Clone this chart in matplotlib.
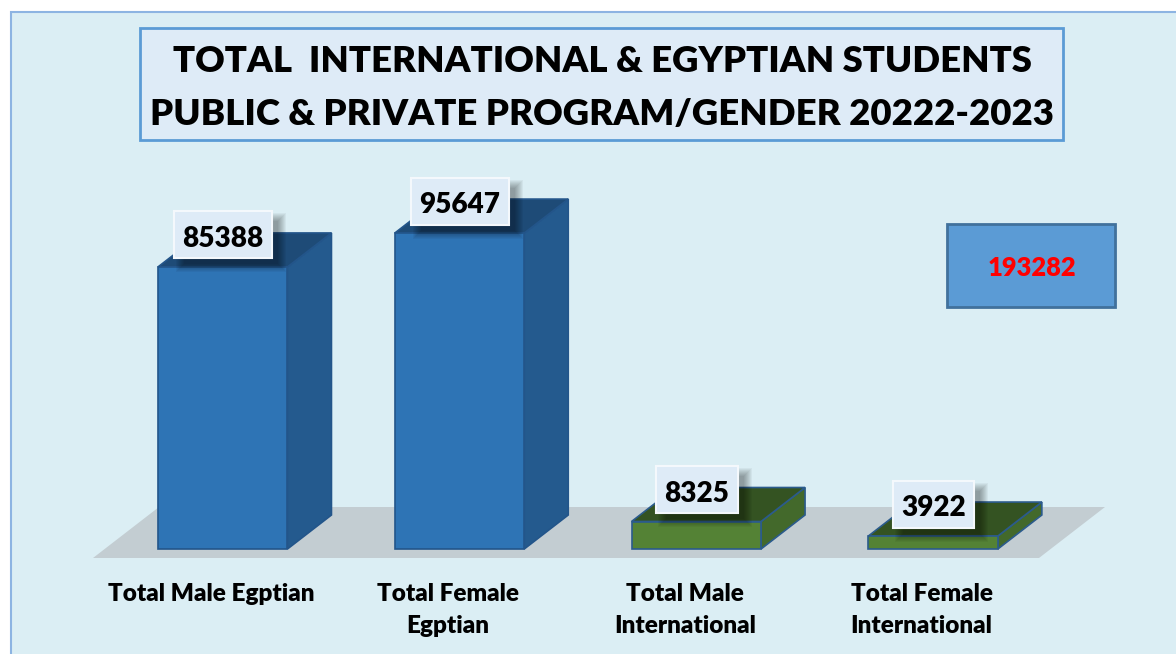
import matplotlib
matplotlib.use("Agg")
import matplotlib.pyplot as plt
from matplotlib.patches import Rectangle, Polygon
from matplotlib.transforms import Affine2D
import numpy as np

# ---------------- data ----------------
categories = ["Total Male Egptian", "Total Female\nEgptian",
              "Total Male\nInternational", "Total Female\nInternational"]
values = [85388, 95647, 8325, 3922]
value_labels = ["85388", "95647", "8325", "3922"]
total_value = 193282
title_lines = ["TOTAL  INTERNATIONAL & EGYPTIAN STUDENTS",
               "PUBLIC & PRIVATE PROGRAM/GENDER 20222-2023"]

# ---------------- styles ----------------
W, H, DPI = 1176, 654, 100
FONT = ["Lato", "DejaVu Sans"]
WEIGHT = "heavy"
front_colors = ["#2E74B5", "#2E74B5", "#548235", "#548235"]
side_colors = ["#245A8E", "#245A8E", "#43692B", "#43692B"]
top_colors = ["#1E4B77", "#1E4B77", "#345322", "#345322"]
edge_colors = ["#23558A", "#23558A", "#2B5B8C", "#2B5B8C"]

fig = plt.figure(figsize=(W / DPI, H / DPI), dpi=DPI)
fig.patch.set_facecolor("white")
renderer = fig.canvas.get_renderer()

# pixel transform (origin top-left)
pix = Affine2D().scale(1.0 / W, -1.0 / H).translate(0, 1) + fig.transFigure

ax = fig.add_axes([0, 0, 1, 1])
ax.set_axis_off()
ax.patch.set_alpha(0)

# scales: bar centres ~236.8 px apart, 3.303 px per 1000 students
PX_PER_X = 236.8
PX_PER_Y = 3.303 / 1000.0
X0_PX, BASE_PX = 222.7, 549.0
ax.set_xlim(-X0_PX / PX_PER_X, (W - X0_PX) / PX_PER_X)
ax.set_ylim(-(H - BASE_PX) / PX_PER_Y, BASE_PX / PX_PER_Y)

def to_pix(xd, yd):
    dx, dy = ax.transData.transform((xd, yd))
    return dx, H - dy

def fit_size(text, target_w):
    t = fig.text(0, 0, text, fontsize=20, fontweight=WEIGHT, family=FONT)
    w = t.get_window_extent(renderer).width
    t.remove()
    return 20.0 * target_w / w

# ---------------- panel ----------------
ax.add_patch(Rectangle((11, 12), W + 50, H + 50, transform=pix,
                       facecolor="#DBEEF4", edgecolor="#8DB4E2", lw=1.5,
                       zorder=0, clip_on=False))

# ---------------- title ----------------
ax.add_patch(Rectangle((140, 28), 923, 112, transform=pix,
                       facecolor="#DEEBF7", edgecolor="#5B9BD5", lw=2,
                       zorder=1, clip_on=False))
tsize = fit_size(title_lines[1], 901)
for line, base in zip(title_lines, [72, 125]):
    ax.text(602, base, line, transform=pix, ha="center", va="baseline",
            fontsize=tsize, fontweight=WEIGHT, family=FONT, color="black",
            zorder=2)

# ---------------- floor ----------------
DEPTH_X, DEPTH_Y = 44, 34  # px, 3-D depth
floor_l = (93 - X0_PX) / PX_PER_X
floor_r = (1039 - X0_PX) / PX_PER_X
fb = -9 / PX_PER_Y
fdx = 66 / PX_PER_X
fdy = 51 / PX_PER_Y
ax.add_patch(Polygon([(floor_l, fb), (floor_r, fb), (floor_r + fdx, fb + fdy),
                      (floor_l + fdx, fb + fdy)], closed=True,
                     facecolor="#C3CDD2", edgecolor="none", zorder=2))

# ---------------- bars ----------------
x = np.arange(len(values))
bw = 129.5 / PX_PER_X
bars = ax.bar(x, values, width=bw, color=front_colors, edgecolor=edge_colors,
              linewidth=1.2, zorder=4)
ddx = DEPTH_X / PX_PER_X
ddy = DEPTH_Y / PX_PER_Y
for b, sc, tc, ec in zip(bars, side_colors, top_colors, edge_colors):
    x0, x1, h = b.get_x(), b.get_x() + b.get_width(), b.get_height()
    ax.add_patch(Polygon([(x1, 0), (x1 + ddx, ddy), (x1 + ddx, h + ddy), (x1, h)],
                         closed=True, facecolor=sc, edgecolor=ec, lw=1.2, zorder=3))
    ax.add_patch(Polygon([(x0, h), (x0 + ddx, h + ddy), (x1 + ddx, h + ddy), (x1, h)],
                         closed=True, facecolor=tc, edgecolor=ec, lw=1.2, zorder=3))

# ---------------- value labels ----------------
vsize = fit_size(value_labels[0], 81)
for xi, v, lab in zip(x, values, value_labels):
    cx, cy = to_pix(xi, v)
    cx += 0.5
    cy = cy - DEPTH_Y + 2
    t = ax.text(cx, cy + 12, lab, transform=pix, ha="center", va="baseline",
                fontsize=vsize, fontweight=WEIGHT, family=FONT, color="black",
                zorder=8)
    tw = t.get_window_extent(renderer).width
    bwid, bh = tw + 17, 47
    # soft shadow
    for k in range(9):
        ax.add_patch(Rectangle((cx - bwid / 2 + 6 - k + 4, cy - bh / 2 + 6 - k + 4),
                               bwid + 2 * k - 4, bh + 2 * k - 4, transform=pix,
                               facecolor="black", edgecolor="none", alpha=0.045,
                               zorder=6, clip_on=False))
    ax.add_patch(Rectangle((cx - bwid / 2, cy - bh / 2), bwid, bh, transform=pix,
                           facecolor="#DEEBF7", edgecolor="#F4F8FC", lw=1.5,
                           zorder=7, clip_on=False))

# ---------------- category labels ----------------
csize = fit_size(categories[0], 207)
for xi, cat in zip(x, categories):
    cx, _ = to_pix(xi, 0)
    for j, line in enumerate(cat.split("\n")):
        ax.text(cx - 11.5, 601 + 32 * j, line, transform=pix, ha="center",
                va="baseline", fontsize=csize, fontweight=WEIGHT, family=FONT,
                color="black", zorder=5)

# ---------------- total box ----------------
ax.add_patch(Rectangle((947, 224), 168, 83, transform=pix, facecolor="#5B9BD5",
                       edgecolor="#41719C", lw=2, zorder=5, clip_on=False))
ax.text(1032, 276, f"{total_value}", transform=pix, ha="center", va="baseline",
        fontsize=fit_size(f"{total_value}", 89), fontweight=WEIGHT, family=FONT,
        color="#FF0000", zorder=6)

fig.savefig("out.png", dpi=DPI, facecolor=fig.get_facecolor())
